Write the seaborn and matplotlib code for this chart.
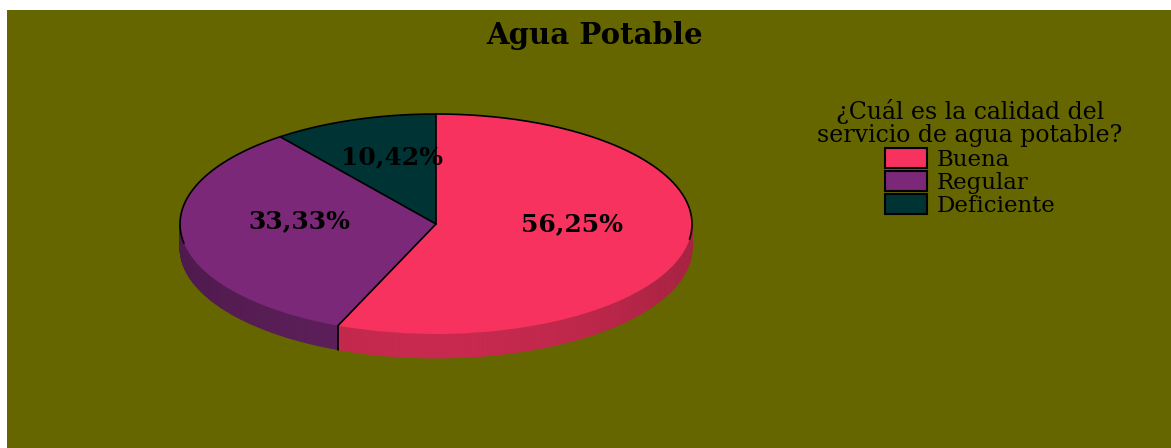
import numpy as np
import matplotlib
matplotlib.use("Agg")
import matplotlib.pyplot as plt
import seaborn as sns
from matplotlib.patches import Rectangle

# ---- data ----
categories = ["Buena", "Regular", "Deficiente"]
percentages = [56.25, 33.33, 10.42]
top_colors = ["#F7325F", "#7B2878", "#003333"]
side_colors = ["#C8294F", "#5E1F5C", "#002828"]
chart_title = "Agua Potable"
legend_title = "¿Cuál es la calidad del\nservicio de agua potable?"

sns.set_theme(style="white")
plt.rcParams["font.family"] = ["DejaVu Serif", "DejaVu Sans"]
plt.rcParams["text.color"] = "black"
plt.rcParams["legend.labelcolor"] = "black"

W, H = 1171, 448
fig = plt.figure(figsize=(W / 100, H / 100), dpi=100, facecolor="white")
fig.add_artist(Rectangle((7 / W, 0), 1 - 7 / W, 1 - 10 / H, transform=fig.transFigure,
                         facecolor="#666600", edgecolor="none", zorder=-1))

# pie axes: rx = 256 px, ry = 110 px, centre at (436, 224)
rx, ry = 256.0, 110.0
x0, x1, y0, y1 = -1.2, 1.2, -1.45, 1.2
ax = fig.add_axes([(436 - 1.2 * rx) / W, (224 - 1.45 * ry) / H, (x1 - x0) * rx / W, (y1 - y0) * ry / H])
ax.patch.set_visible(False)


def fmt(p):
    return f"{p:.2f}%".replace(".", ",")


wedges, texts, autotexts = ax.pie(
    percentages, colors=top_colors, startangle=90, counterclock=False,
    autopct=fmt, pctdistance=0.54, wedgeprops=dict(linewidth=0),
    textprops=dict(fontsize=18, fontweight="bold", family="DejaVu Serif", color="black"),
    frame=False,
)
ax.set_aspect("auto")
ax.set_xlim(x0, x1)
ax.set_ylim(y0, y1)
ax.axis("off")

depth = 24 / ry

# side walls (front half only) with slight shading
for w, sc in zip(wedges, side_colors):
    base = np.array(matplotlib.colors.to_rgb(sc))
    t = np.radians(np.linspace(w.theta1, w.theta2, 240))
    for k in range(len(t) - 1):
        tm = 0.5 * (t[k] + t[k + 1])
        if np.sin(tm) >= 0:
            continue
        shade = 1.0 - 0.16 * abs(np.cos(tm)) ** 2
        col = np.clip(base * shade, 0, 1)
        xs = np.cos(t[k:k + 2])
        ys = np.sin(t[k:k + 2])
        ax.fill(np.concatenate([xs, xs[::-1]]), np.concatenate([ys, ys[::-1] - depth]),
                facecolor=col, edgecolor=col, linewidth=0.6, zorder=0.5)

# outlines: back rim, radial boundaries, vertical edges on side
tb = np.radians(np.linspace(-8, 190, 300))
ax.plot(np.cos(tb), np.sin(tb), color="black", lw=1.2, zorder=2.5)
for w in wedges:
    a = np.radians(w.theta2)
    ax.plot([0, np.cos(a)], [0, np.sin(a)], color="black", lw=1.2, zorder=2.5)
    if np.sin(a) < 0:
        ax.plot([np.cos(a), np.cos(a)], [np.sin(a), np.sin(a) - depth], color="black", lw=1.2, zorder=2.5)

for t in autotexts:
    px, py = t.get_position()
    t.set_position((px, py + 0.1))

fig.text(595 / W, 1 - 35 / H, chart_title, ha="center", va="center",
         fontsize=21, fontweight="bold", family="DejaVu Serif", color="black")

leg = ax.legend(
    wedges, categories, title=legend_title, loc="upper center",
    bbox_to_anchor=(970 / W, 1 - 88 / H), bbox_transform=fig.transFigure,
    frameon=False, prop={"family": "DejaVu Serif", "size": 16.5},
    title_fontproperties={"family": "DejaVu Serif", "size": 17},
    handlelength=1.85, handleheight=0.95, handletextpad=0.4, labelspacing=0.02,
    borderpad=0,
)
leg.get_title().set_multialignment("center")
leg.get_title().set_linespacing(1.0)
leg.get_title().set_color("black")
for txt in leg.get_texts():
    txt.set_color("black")
for h in leg.legend_handles:
    h.set_edgecolor("black")
    h.set_linewidth(1.5)

fig.savefig("out.png", dpi=100, facecolor="white")
